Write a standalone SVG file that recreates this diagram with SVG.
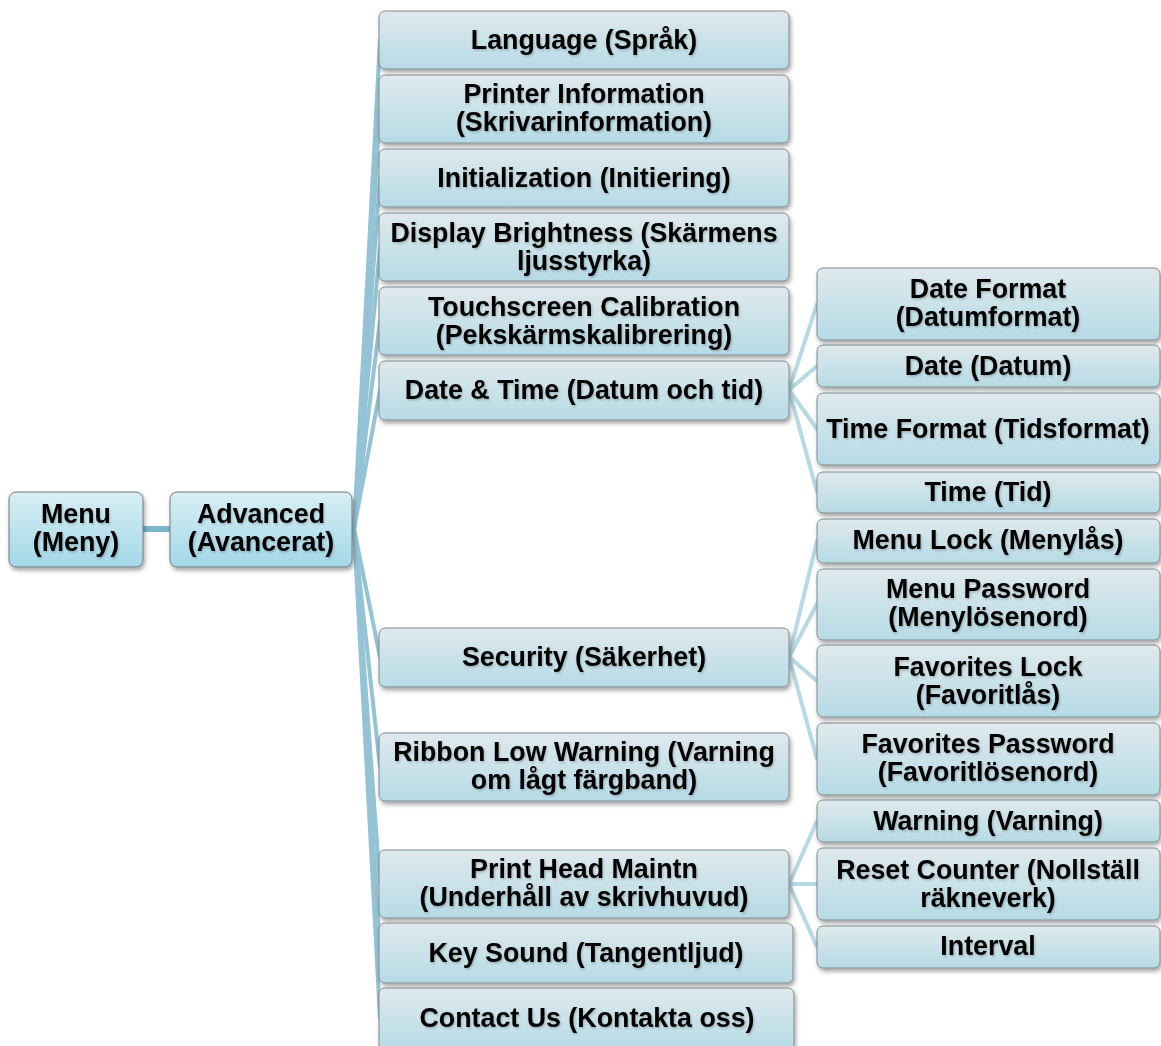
<svg xmlns="http://www.w3.org/2000/svg" width="1161" height="1046" viewBox="0 0 1161 1046">
<defs>
<linearGradient id="gRoot" x1="0" y1="0" x2="0" y2="1">
<stop offset="0" stop-color="#d8eef4"/>
<stop offset="1" stop-color="#a3d8e8"/>
</linearGradient>
<linearGradient id="gNode" x1="0" y1="0" x2="0" y2="1">
<stop offset="0" stop-color="#dfe9ed"/>
<stop offset="1" stop-color="#b6dbe6"/>
</linearGradient>
<filter id="sh" x="-10%" y="-20%" width="125%" height="150%">
<feDropShadow dx="1.5" dy="3" stdDeviation="2" flood-color="#000" flood-opacity="0.35"/>
</filter>
<filter id="tsh" x="-5%" y="-20%" width="110%" height="150%">
<feDropShadow dx="1" dy="1.5" stdDeviation="1.2" flood-color="#000" flood-opacity="0.22"/>
</filter>
</defs>
<style>
.root rect{fill:url(#gRoot);stroke:#6f7a7e;stroke-width:1;filter:url(#sh)}
.n rect{fill:url(#gNode);stroke:#7f8a8e;stroke-width:1;filter:url(#sh)}
text{font-family:"Liberation Sans",Arial,sans-serif;font-weight:bold;font-size:26.8px;fill:#000;text-anchor:middle;filter:url(#tsh)}
.c1 line{stroke:#93c3d5;stroke-width:4;stroke-linecap:round}
.c0 line{stroke:#7bb6cc;stroke-width:6}
.c2 line{stroke:#b7d9e4;stroke-width:4;stroke-linecap:round}
</style>
<rect width="1161" height="1046" fill="#fff"/>
<g id="connectors">
<g class="c0"><line x1="143" y1="529" x2="170" y2="529"/></g>
<g class="c1">
<line x1="354" y1="529" x2="380" y2="40"/>
<line x1="354" y1="529" x2="380" y2="109"/>
<line x1="354" y1="529" x2="380" y2="178"/>
<line x1="354" y1="529" x2="380" y2="247"/>
<line x1="354" y1="529" x2="380" y2="321"/>
<line x1="354" y1="529" x2="380" y2="390"/>
<line x1="354" y1="529" x2="380" y2="657"/>
<line x1="354" y1="529" x2="380" y2="767"/>
<line x1="354" y1="529" x2="380" y2="884"/>
<line x1="354" y1="529" x2="380" y2="953"/>
<line x1="354" y1="529" x2="380" y2="1018"/>
</g>
<g class="c2">
<line x1="789" y1="390" x2="817" y2="304"/>
<line x1="789" y1="390" x2="817" y2="366"/>
<line x1="789" y1="390" x2="817" y2="429"/>
<line x1="789" y1="390" x2="817" y2="492"/>
<line x1="789" y1="657" x2="817" y2="541"/>
<line x1="789" y1="657" x2="817" y2="604"/>
<line x1="789" y1="657" x2="817" y2="681"/>
<line x1="789" y1="657" x2="817" y2="759"/>
<line x1="789" y1="884" x2="817" y2="821"/>
<line x1="789" y1="884" x2="817" y2="884"/>
<line x1="789" y1="884" x2="817" y2="947"/>
</g>
</g>
<g id="menu" class="root"><rect x="9" y="492" width="134" height="75" rx="7"/><text x="76" y="523">Menu</text><text x="76" y="551">(Meny)</text></g>
<g id="advanced" class="root"><rect x="170" y="492" width="182" height="75" rx="7"/><text x="261" y="523">Advanced</text><text x="261" y="551">(Avancerat)</text></g>

<g id="language" class="n"><rect x="379" y="11" width="410" height="58" rx="6"/><text x="584" y="49">Language (Språk)</text></g>
<g id="printer-info" class="n"><rect x="379" y="75" width="410" height="68" rx="6"/><text x="584" y="103">Printer Information</text><text x="584" y="131">(Skrivarinformation)</text></g>
<g id="initialization" class="n"><rect x="379" y="149" width="410" height="58" rx="6"/><text x="584" y="187">Initialization (Initiering)</text></g>
<g id="display-brightness" class="n"><rect x="379" y="213" width="410" height="68" rx="6"/><text x="584" y="242">Display Brightness (Skärmens</text><text x="584" y="270">ljusstyrka)</text></g>
<g id="touchscreen" class="n"><rect x="379" y="287" width="410" height="68" rx="6"/><text x="584" y="316">Touchscreen Calibration</text><text x="584" y="344">(Pekskärmskalibrering)</text></g>
<g id="date-time" class="n"><rect x="379" y="361" width="410" height="59" rx="6"/><text x="584" y="399">Date &amp; Time (Datum och tid)</text></g>
<g id="security" class="n"><rect x="379" y="628" width="410" height="59" rx="6"/><text x="584" y="666">Security (Säkerhet)</text></g>
<g id="ribbon" class="n"><rect x="379" y="733" width="410" height="68" rx="6"/><text x="584" y="761">Ribbon Low Warning (Varning</text><text x="584" y="789">om lågt färgband)</text></g>
<g id="print-head" class="n"><rect x="379" y="850" width="410" height="68" rx="6"/><text x="584" y="878">Print Head Maintn</text><text x="584" y="906">(Underhåll av skrivhuvud)</text></g>
<g id="key-sound" class="n"><rect x="379" y="923" width="414" height="60" rx="6"/><text x="586" y="962">Key Sound (Tangentljud)</text></g>
<g id="contact" class="n"><rect x="379" y="988" width="415" height="62" rx="6"/><text x="587" y="1027">Contact Us (Kontakta oss)</text></g>

<g id="date-format" class="n"><rect x="817" y="268" width="343" height="72" rx="6"/><text x="988" y="298">Date Format</text><text x="988" y="326">(Datumformat)</text></g>
<g id="date" class="n"><rect x="817" y="345" width="343" height="42" rx="6"/><text x="988" y="375">Date (Datum)</text></g>
<g id="time-format" class="n"><rect x="817" y="393" width="343" height="72" rx="6"/><text x="988" y="438">Time Format (Tidsformat)</text></g>
<g id="time" class="n"><rect x="817" y="472" width="343" height="41" rx="6"/><text x="988" y="501">Time (Tid)</text></g>
<g id="menu-lock" class="n"><rect x="817" y="519" width="343" height="44" rx="6"/><text x="988" y="549">Menu Lock (Menylås)</text></g>
<g id="menu-password" class="n"><rect x="817" y="569" width="343" height="71" rx="6"/><text x="988" y="598">Menu Password</text><text x="988" y="626">(Menylösenord)</text></g>
<g id="fav-lock" class="n"><rect x="817" y="645" width="343" height="72" rx="6"/><text x="988" y="676">Favorites Lock</text><text x="988" y="704">(Favoritlås)</text></g>
<g id="fav-password" class="n"><rect x="817" y="723" width="343" height="72" rx="6"/><text x="988" y="753">Favorites Password</text><text x="988" y="781">(Favoritlösenord)</text></g>
<g id="warning" class="n"><rect x="817" y="800" width="343" height="42" rx="6"/><text x="988" y="830">Warning (Varning)</text></g>
<g id="reset-counter" class="n"><rect x="817" y="848" width="343" height="72" rx="6"/><text x="988" y="879">Reset Counter (Nollställ</text><text x="988" y="907">räkneverk)</text></g>
<g id="interval" class="n"><rect x="817" y="926" width="343" height="42" rx="6"/><text x="988" y="955">Interval</text></g>
</svg>
